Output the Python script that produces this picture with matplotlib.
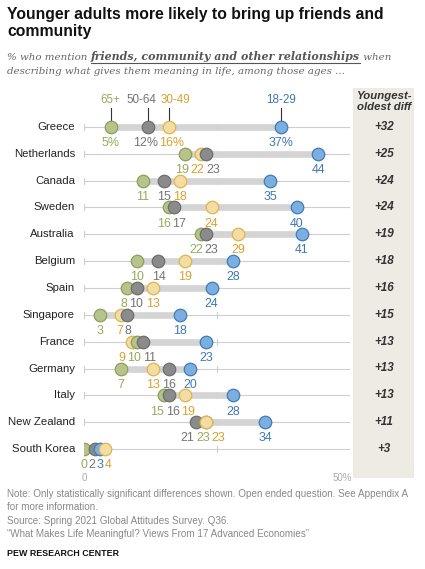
import matplotlib
matplotlib.use("Agg")
import matplotlib.pyplot as plt
from matplotlib.patches import Rectangle
from matplotlib.lines import Line2D

countries = ["Greece", "Netherlands", "Canada", "Sweden", "Australia", "Belgium", "Spain",
             "Singapore", "France", "Germany", "Italy", "New Zealand", "South Korea"]
age_groups = ["65+", "50-64", "30-49", "18-29"]
age_65 = [5, 19, 11, 16, 22, 10, 8, 3, 10, 7, 15, 23, 0]
age_50 = [12, 23, 15, 17, 23, 14, 10, 8, 11, 16, 16, 21, 2]
age_30 = [16, 22, 18, 24, 29, 19, 13, 7, 9, 13, 19, 23, 4]
age_18 = [37, 44, 35, 40, 41, 28, 24, 18, 23, 20, 28, 34, 3]
diffs = ["+32", "+25", "+24", "+24", "+19", "+18", "+16", "+15", "+13", "+13", "+13", "+11", "+3"]

fill = {"65+": "#b6c48c", "50-64": "#8b8b8b", "30-49": "#f3dda6", "18-29": "#7cafe0"}
edge = {"65+": "#8e9e58", "50-64": "#6e6e6e", "30-49": "#e0b44a", "18-29": "#3f7cb8"}
tcol = {"65+": "#98a95c", "50-64": "#747474", "30-49": "#d9a12e", "18-29": "#3f78b0"}

W, H = 425, 569
fig = plt.figure(figsize=(W / 100, H / 100), dpi=100)
fig.patch.set_facecolor("white")
SANS = "Liberation Sans"
SERIF = "DejaVu Serif"
renderer = fig.canvas.get_renderer()


def fx(px):
    return px / W


def fy(py):
    return 1 - py / H


# shaded diff column
fig.patches.append(Rectangle((fx(353), fy(478)), fx(414) - fx(353), fy(88) - fy(478),
                             transform=fig.transFigure, facecolor="#eeebe4", edgecolor="none", zorder=0))
fig.text(fx(384), fy(91), "Youngest-\noldest diff", ha="center", va="top", fontsize=8.2,
         fontweight="bold", style="italic", family=SANS, color="#333333", linespacing=1.1)

# title
fig.text(fx(7), fy(19), "Younger adults more likely to bring up friends and", ha="left", va="baseline",
         fontsize=11.3, fontweight="bold", family=SANS, color="#111111")
fig.text(fx(7), fy(36), "community", ha="left", va="baseline",
         fontsize=11.3, fontweight="bold", family=SANS, color="#111111")

# subtitle with bold underlined part
x0 = 7
parts = [("% who mention ", "normal", False),
         ("friends, community and other relationships", "bold", True),
         (" when", "normal", False)]
for s, wt, ul in parts:
    t = fig.text(fx(x0), fy(60), s, ha="left", va="baseline", fontsize=7.4 if wt == "normal" else 7.9,
                 style="italic", fontweight=wt, family=SERIF,
                 color="#666666" if wt == "normal" else "#555555")
    bb = t.get_window_extent(renderer)
    if ul:
        fig.lines.append(Line2D([fx(x0), fx(x0 + bb.width)], [fy(62.5), fy(62.5)],
                                transform=fig.transFigure, color="#555555", lw=0.8))
    x0 += bb.width
fig.text(fx(7), fy(74), "describing what gives them meaning in life, among those ages ...", ha="left",
         va="baseline", fontsize=7.4, style="italic", family=SERIF, color="#666666")

# dot chart axes: x 0..50 maps px 84..350, rows 0..12 at px 127..449
ax = fig.add_axes([fx(84), fy(476), fx(350) - fx(84), fy(100) - fy(476)])
ax.set_xlim(0, 50)
ax.set_ylim(13, -1)
ax.axis("off")

px_per_unit = 266 / 50


def spread(vals, widths, gap):
    # place labels without overlap, clusters centered on their dots
    order = sorted(range(len(vals)), key=lambda i: vals[i])
    w = [widths[i] for i in order]
    clusters = [[k] for k in range(len(order))]
    while True:
        pos = {}
        for c in clusters:
            total = sum(w[k] for k in c) + gap * (len(c) - 1)
            center = sum(vals[order[k]] for k in c) / len(c)
            left = center - total / 2
            for k in c:
                pos[k] = left + w[k] / 2
                left += w[k] + gap
        merged = False
        for j in range(len(clusters) - 1):
            a, b = clusters[j][-1], clusters[j + 1][0]
            if pos[a] + w[a] / 2 + gap > pos[b] - w[b] / 2:
                clusters[j] = clusters[j] + clusters[j + 1]
                del clusters[j + 1]
                merged = True
                break
        if not merged:
            break
    out = [0] * len(vals)
    for k, i in enumerate(order):
        out[i] = pos[k]
    return out


def place(texts, vals, y, size, gap_px):
    objs = []
    for s, g in zip(texts, age_groups):
        objs.append(ax.text(0, y, s, ha="center", va="center", fontsize=size,
                            family=SANS, color=tcol[g]))
    widths = [o.get_window_extent(renderer).width / px_per_unit for o in objs]
    xs = spread(vals, widths, gap_px / px_per_unit)
    for o, xv in zip(objs, xs):
        o.set_x(xv)


series = [age_65, age_50, age_30, age_18]
for r, name in enumerate(countries):
    vals = [s[r] for s in series]
    ax.plot([0, 50], [r, r], color="#cfcfcf", lw=0.8, zorder=1, solid_capstyle="butt")
    for tx in (0, 25, 50):
        ax.plot([tx, tx], [r - 0.11, r + 0.11], color="#cfcfcf", lw=0.8, zorder=1)
    ax.plot([min(vals), max(vals)], [r, r], color="#d4d4d4", lw=4.8, zorder=2, solid_capstyle="butt")
    order = sorted(range(4), key=lambda i: vals[i])
    for z, i in enumerate(order):
        g = age_groups[i]
        ax.plot(vals[i], r, "o", ms=9.0, mfc=fill[g], mec=edge[g], mew=0.9, zorder=3 + z)
    texts = [f"{v}%" if r == 0 else str(v) for v in vals]
    place(texts, vals, r + 0.6, 8.9, 1.5)
    ax.text(-1.7, r, name, ha="right", va="center", fontsize=8.2, family=SANS, color="#222222")
    fig.text(fx(384), fy(127 + r * 26.83), diffs[r], ha="center", va="center", fontsize=8.4,
             fontweight="bold", style="italic", family=SANS, color="#333333")

# age group headers above Greece
place(age_groups, [s[0] for s in series], -1.0, 8.4, 4)
for i, g in enumerate(age_groups):
    v = series[i][0]
    ax.plot([v, v], [-0.7, -0.15], color="#333333", lw=0.8, zorder=2)
    ax.plot(v, -0.15, marker="o", ms=2.0, color="#333333", zorder=2)

ax.text(0, 13.07, "0", ha="center", va="center", fontsize=7, family=SANS, color="#aaaaaa")
ax.text(50.3, 13.07, "50%", ha="right", va="center", fontsize=7, family=SANS, color="#aaaaaa")

# footer
notes = ["Note: Only statistically significant differences shown. Open ended question. See Appendix A",
         "for more information.",
         "Source: Spring 2021 Global Attitudes Survey. Q36.",
         "\u201cWhat Makes Life Meaningful? Views From 17 Advanced Economies\u201d"]
for k, line in enumerate(notes):
    fig.text(fx(7), fy(494 + k * 13.3), line, ha="left", va="center", fontsize=7.1,
             family=SANS, color="#888888")
fig.text(fx(7), fy(553), "PEW RESEARCH CENTER", ha="left", va="center", fontsize=6.4,
         fontweight="bold", family=SANS, color="#111111")

fig.savefig("out.png", dpi=100, facecolor="white")
